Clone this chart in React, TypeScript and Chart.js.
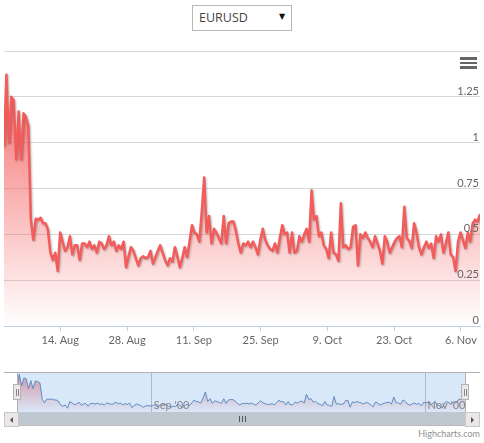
import React, { useEffect, useRef } from "react";
import { Chart, registerables } from "chart.js";

Chart.register(...registerables);

const SERIES_NAME = "EURUSD";
const START_DATE = "2000-08-02T04:48:00Z";
const END_DATE = "2000-11-10T00:00:00Z";

const RATE_VALUES = [
  0.98, 1.37, 1.0, 1.25, 1.23, 0.91, 1.17, 0.91, 1.16, 1.14, 1.09, 0.58, 0.47, 0.585, 0.58, 0.59,
  0.56, 0.56, 0.525, 0.4, 0.36, 0.4, 0.3, 0.51, 0.46, 0.41, 0.43, 0.49, 0.39, 0.44, 0.44, 0.36,
  0.45, 0.45, 0.43, 0.46, 0.42, 0.44, 0.4, 0.46, 0.45, 0.42, 0.44, 0.49, 0.44, 0.46, 0.41,
  0.44, 0.42, 0.46, 0.32, 0.38, 0.43, 0.41, 0.37, 0.33, 0.37, 0.38, 0.37, 0.375, 0.41, 0.34, 0.375,
  0.41, 0.44, 0.4, 0.36, 0.33, 0.37, 0.35, 0.43, 0.38, 0.32, 0.37, 0.43, 0.375, 0.46, 0.55, 0.51,
  0.5, 0.46, 0.62, 0.81, 0.51, 0.6, 0.45, 0.53, 0.51, 0.48, 0.45, 0.6, 0.45, 0.56, 0.57, 0.57,
  0.52, 0.45, 0.4,
  0.45, 0.44, 0.46, 0.43, 0.46, 0.43, 0.39, 0.47, 0.53, 0.47, 0.44, 0.42, 0.41, 0.45, 0.4, 0.48,
  0.55, 0.5, 0.51, 0.4, 0.51, 0.4, 0.41, 0.49, 0.46, 0.5, 0.53, 0.46, 0.74, 0.58, 0.6, 0.49,
  0.51, 0.44, 0.42, 0.37, 0.51, 0.4, 0.39, 0.355, 0.67, 0.43, 0.44, 0.42, 0.43, 0.54, 0.55, 0.33,
  0.5, 0.48, 0.51, 0.48, 0.46, 0.43, 0.49, 0.45, 0.41, 0.34, 0.49, 0.46, 0.4, 0.43, 0.46, 0.48,
  0.49, 0.43, 0.65, 0.48, 0.465, 0.425, 0.56, 0.51, 0.43, 0.39, 0.43, 0.46, 0.425, 0.45, 0.37, 0.49,
  0.46, 0.5, 0.4, 0.45, 0.51, 0.39, 0.375, 0.3, 0.46, 0.51, 0.47, 0.425, 0.51, 0.46, 0.56, 0.58,
  0.57, 0.61,
];

const X_TICK_DATES = [
  "2000-08-14T00:00:00Z",
  "2000-08-28T00:00:00Z",
  "2000-09-11T00:00:00Z",
  "2000-09-25T00:00:00Z",
  "2000-10-09T00:00:00Z",
  "2000-10-23T00:00:00Z",
  "2000-11-06T00:00:00Z",
];
const Y_MIN = 0;
const Y_MAX = 1.5;
const Y_STEP = 0.25;
const NAV_TICK_DATES = ["2000-09-01T00:00:00Z", "2000-11-01T00:00:00Z"];
const NAV_Y_MIN = 0.18;
const NAV_Y_MAX = 1.44;
const MONTHS = ["Jan", "Feb", "Mar", "Apr", "May", "Jun", "Jul", "Aug", "Sep", "Oct", "Nov", "Dec"];

const FONT = "Lato, 'Open Sans', sans-serif";
const START_MS = Date.parse(START_DATE);
const END_MS = Date.parse(END_DATE);

function buildPoints() {
  const step = (END_MS - START_MS) / (RATE_VALUES.length - 1);
  return RATE_VALUES.map((v, i) => ({ x: START_MS + i * step, y: v }));
}

function dayLabel(ms: number) {
  const d = new Date(ms);
  return `${d.getUTCDate()}. ${MONTHS[d.getUTCMonth()]}`;
}
function monthLabel(ms: number) {
  const d = new Date(ms);
  return `${MONTHS[d.getUTCMonth()]} '${String(d.getUTCFullYear()).slice(2)}`;
}

const shadowPlugin = {
  id: "lineShadow",
  beforeDatasetDraw(chart: any, args: any) {
    if (args.index === 0) {
      const c = chart.ctx;
      c.save();
      c.shadowColor = "rgba(0,0,0,0.28)";
      c.shadowBlur = 2;
      c.shadowOffsetX = 1;
      c.shadowOffsetY = 1;
    }
  },
  afterDatasetDraw(chart: any, args: any) {
    if (args.index === 0) chart.ctx.restore();
  },
};

const yLabelPlugin = {
  id: "yLabels",
  afterDraw(chart: any) {
    const s = chart.scales.y;
    const c = chart.ctx;
    c.save();
    c.font = `11px ${FONT}`;
    c.fillStyle = "#666666";
    c.textAlign = "right";
    c.textBaseline = "alphabetic";
    for (const t of s.ticks) {
      if (t.value >= Y_MAX) continue;
      const y = s.getPixelForValue(t.value);
      c.fillText(String(t.value), chart.chartArea.right - 1, y - 2);
    }
    c.restore();
  },
};

const navPlugin = {
  id: "navDecor",
  beforeDatasetsDraw(chart: any) {
    const s = chart.scales.x;
    const a = chart.chartArea;
    const c = chart.ctx;
    c.save();
    c.strokeStyle = "#bdbdbd";
    c.lineWidth = 1;
    for (const d of NAV_TICK_DATES) {
      const x = Math.round(s.getPixelForValue(Date.parse(d))) + 0.5;
      c.beginPath();
      c.moveTo(x, a.top);
      c.lineTo(x, a.bottom);
      c.stroke();
    }
    c.restore();
  },
  afterDatasetsDraw(chart: any) {
    const s = chart.scales.x;
    const a = chart.chartArea;
    const c = chart.ctx;
    c.save();
    c.fillStyle = "rgba(128,179,236,0.3)";
    c.fillRect(a.left, a.top, a.right - a.left, a.bottom - a.top);
    c.font = `11px ${FONT}`;
    c.fillStyle = "#888888";
    c.textAlign = "left";
    c.textBaseline = "alphabetic";
    for (const d of NAV_TICK_DATES) {
      const ms = Date.parse(d);
      c.fillText(monthLabel(ms), s.getPixelForValue(ms) + 3, a.bottom - 3);
    }
    c.restore();
  },
};

function MainChart() {
  const ref = useRef<HTMLCanvasElement>(null);
  useEffect(() => {
    const points = buildPoints();
    const fillColor = (ctx: any) => {
      const chart = ctx.chart;
      const area = chart.chartArea;
      if (!area) return "rgba(244,91,91,0.4)";
      const g = chart.ctx.createLinearGradient(0, area.top, 0, area.bottom);
      g.addColorStop(0, "rgba(244,91,91,1)");
      g.addColorStop(1, "rgba(244,91,91,0)");
      return g;
    };
    const chart = new Chart(ref.current!, {
      type: "line",
      data: {
        datasets: [
          {
            label: SERIES_NAME,
            data: points,
            borderColor: "#f45b5b",
            borderWidth: 2.5,
            borderJoinStyle: "round",
            pointRadius: 0,
            fill: false,
            tension: 0,
          },
          {
            label: SERIES_NAME + " area",
            data: points,
            borderWidth: 0,
            borderColor: "rgba(0,0,0,0)",
            backgroundColor: fillColor,
            pointRadius: 0,
            fill: "origin",
            tension: 0,
          },
        ],
      },
      options: {
        animation: false,
        responsive: false,
        maintainAspectRatio: false,
        events: [],
        layout: { padding: { left: 4, right: 4, top: 51, bottom: 0 } },
        plugins: { legend: { display: false }, tooltip: { enabled: false } },
        scales: {
          x: {
            type: "linear",
            min: START_MS,
            max: END_MS,
            afterBuildTicks: (scale: any) => {
              scale.ticks = X_TICK_DATES.map((d) => ({ value: Date.parse(d) }));
            },
            afterFit: (scale: any) => {
              scale.height = 24;
            },
            ticks: {
              autoSkip: false,
              maxRotation: 0,
              padding: 3,
              color: "#666666",
              font: { family: FONT, size: 11 },
              callback: (v: any) => dayLabel(Number(v)),
            },
            grid: {
              display: true,
              drawOnChartArea: false,
              drawTicks: true,
              tickLength: 5,
              color: "#c0d0e0",
            },
            border: { display: true, color: "#c0d0e0" },
          },
          y: {
            position: "right",
            min: Y_MIN,
            max: Y_MAX,
            afterFit: (scale: any) => {
              scale.width = 0;
            },
            ticks: { stepSize: Y_STEP, display: false },
            grid: { color: "#d8d8d8", drawTicks: false },
            border: { display: false },
          },
        },
      },
      plugins: [shadowPlugin, yLabelPlugin],
    } as any);
    return () => chart.destroy();
  }, []);
  return (
    <canvas
      ref={ref}
      width={484}
      height={350}
      style={{ position: "absolute", left: 0, top: 0, width: 484, height: 350 }}
    />
  );
}

function NavigatorChart() {
  const ref = useRef<HTMLCanvasElement>(null);
  useEffect(() => {
    const points = buildPoints();
    const fillColor = (ctx: any) => {
      const chart = ctx.chart;
      const area = chart.chartArea;
      if (!area) return "rgba(244,91,91,0.3)";
      const g = chart.ctx.createLinearGradient(0, area.top, 0, area.bottom);
      g.addColorStop(0, "rgba(244,91,91,0.75)");
      g.addColorStop(1, "rgba(244,91,91,0)");
      return g;
    };
    const chart = new Chart(ref.current!, {
      type: "line",
      data: {
        datasets: [
          {
            label: SERIES_NAME,
            data: points,
            borderColor: "#4f7ab0",
            borderWidth: 1,
            backgroundColor: fillColor,
            pointRadius: 0,
            fill: "start",
            tension: 0,
          },
        ],
      },
      options: {
        animation: false,
        responsive: false,
        maintainAspectRatio: false,
        events: [],
        layout: { padding: 0 },
        plugins: { legend: { display: false }, tooltip: { enabled: false } },
        scales: {
          x: { type: "linear", display: false, min: START_MS, max: END_MS },
          y: { display: false, min: NAV_Y_MIN, max: NAV_Y_MAX },
        },
      },
      plugins: [navPlugin],
    } as any);
    return () => chart.destroy();
  }, []);
  return (
    <canvas
      ref={ref}
      width={448}
      height={40}
      style={{ position: "absolute", left: 17, top: 372, width: 448, height: 40 }}
    />
  );
}

function Handle({ left }: { left: number }) {
  return (
    <div
      style={{
        position: "absolute",
        left,
        top: 384,
        width: 6,
        height: 14,
        background: "#ebe7e8",
        border: "1px solid #b2b1b6",
      }}
    >
      <div style={{ position: "absolute", left: 1.5, top: 3.5, width: 1, height: 7, background: "#888" }} />
      <div style={{ position: "absolute", left: 3.5, top: 3.5, width: 1, height: 7, background: "#888" }} />
    </div>
  );
}

function ArrowButton({ left, dir }: { left: number; dir: "l" | "r" }) {
  return (
    <div
      style={{
        position: "absolute",
        left,
        top: 412,
        width: 13,
        height: 13,
        background: "#ebe7e8",
        border: "1px solid #c8c8c8",
        boxSizing: "content-box",
      }}
    >
      <div
        style={{
          position: "absolute",
          left: 5,
          top: 4,
          width: 0,
          height: 0,
          borderTop: "3px solid transparent",
          borderBottom: "3px solid transparent",
          ...(dir === "l" ? { borderRight: "3px solid #555" } : { borderLeft: "3px solid #555" }),
        }}
      />
    </div>
  );
}

export default function App() {
  return (
    <div
      style={{
        position: "absolute",
        left: 0,
        top: 0,
        width: 484,
        height: 443,
        background: "#fff",
        overflow: "hidden",
        fontFamily: FONT,
      }}
    >
      <div
        style={{
          position: "absolute",
          left: 192,
          top: 5,
          width: 98,
          height: 24,
          border: "1px solid #b8b8b8",
          background: "#fff",
        }}
      >
        <span
          style={{
            position: "absolute",
            left: 6,
            top: 4,
            fontFamily: "'Open Sans', sans-serif",
            fontSize: 12.5,
            lineHeight: "16px",
            color: "#444",
          }}
        >
          {SERIES_NAME}
        </span>
        <span
          style={{
            position: "absolute",
            left: 86,
            top: 6,
            fontSize: 8,
            lineHeight: "10px",
            color: "#111",
            fontFamily: "'DejaVu Sans', sans-serif",
          }}
        >
          ▼
        </span>
      </div>

      <MainChart />

      {[57, 61.5, 66].map((t) => (
        <div
          key={t}
          style={{ position: "absolute", left: 460, top: t, width: 17, height: 2.6, background: "#666" }}
        />
      ))}

      <NavigatorChart />
      <div style={{ position: "absolute", left: 4, top: 372, width: 476, height: 1, background: "#b2b1b6" }} />
      <div style={{ position: "absolute", left: 17, top: 372, width: 1, height: 40, background: "#b2b1b6" }} />
      <div style={{ position: "absolute", left: 465, top: 372, width: 1, height: 40, background: "#b2b1b6" }} />
      <Handle left={13} />
      <Handle left={461} />

      <div style={{ position: "absolute", left: 4, top: 412, width: 476, height: 14, background: "#eeeeee" }} />
      <div
        style={{
          position: "absolute",
          left: 17,
          top: 412,
          width: 447,
          height: 13,
          background: "#bfc8d1",
          border: "1px solid #bbbbbb",
          boxSizing: "content-box",
          borderTop: "none",
        }}
      >
        {[0, 3, 6].map((o) => (
          <div
            key={o}
            style={{ position: "absolute", left: 221 + o, top: 4, width: 1, height: 6, background: "#555" }}
          />
        ))}
      </div>
      <ArrowButton left={4} dir="l" />
      <ArrowButton left={465} dir="r" />

      <div
        style={{
          position: "absolute",
          right: 4,
          top: 428,
          fontSize: 9,
          lineHeight: "11px",
          color: "#909090",
          fontFamily: FONT,
        }}
      >
        Highcharts.com
      </div>
    </div>
  );
}
